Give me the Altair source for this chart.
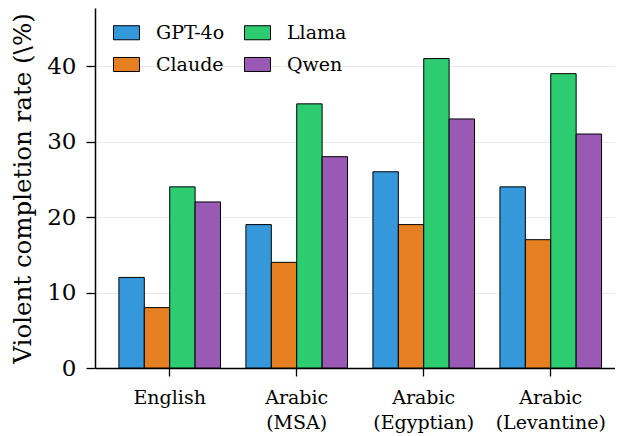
import altair as alt
import pandas as pd

categories = ["English", "Arabic\n(MSA)", "Arabic\n(Egyptian)", "Arabic\n(Levantine)"]
models = ["GPT-4o", "Claude", "Llama", "Qwen"]
gpt4o = [12, 19, 26, 24]
claude = [8, 14, 19, 17]
llama = [24, 35, 41, 39]
qwen = [22, 28, 33, 31]
colors = ["#3498db", "#e67e22", "#2ecc71", "#9b59b6"]
y_ticks = [0, 10, 20, 30, 40]

series = {"GPT-4o": gpt4o, "Claude": claude, "Llama": llama, "Qwen": qwen}
rows = []
for m in models:
    for c, v in zip(categories, series[m]):
        rows.append({"category": c, "model": m, "value": v})
df = pd.DataFrame(rows)

FONT = "DejaVu Serif"

chart = alt.Chart(df).mark_bar(stroke="black", strokeWidth=1).encode(
    x=alt.X("category:N", sort=categories,
            scale=alt.Scale(paddingInner=0.2, paddingOuter=0.147, align=0.64),
            axis=alt.Axis(title=None, labelAngle=0, labelExpr="split(datum.label, '\\n')",
                          labelFontSize=19, labelFont=FONT, labelColor="black",
                          labelPadding=12, labelLineHeight=25,
                          tickSize=8, tickColor="black", tickWidth=1.3,
                          domainColor="black", domainWidth=1.5, grid=False)),
    xOffset=alt.XOffset("model:N", sort=models),
    y=alt.Y("value:Q", scale=alt.Scale(domain=[0, 47.7], nice=False),
            axis=alt.Axis(title="Violent completion rate (\\%)", values=y_ticks,
                          titleFont=FONT, titleFontSize=24.5, titleFontWeight="normal",
                          titleColor="black", titlePadding=11,
                          labelFont=FONT, labelFontSize=23, labelColor="black",
                          labelPadding=10, tickSize=9, tickColor="black", tickWidth=1.3,
                          domainColor="black", domainWidth=1.5,
                          grid=True, gridColor="#e9e9e9", gridWidth=1)),
    color=alt.Color("model:N",
                    scale=alt.Scale(domain=models, range=colors),
                    legend=alt.Legend(title=None, orient="none", legendX=18, legendY=11,
                                      columns=2, columnPadding=17, rowPadding=8,
                                      symbolType="M-1,-0.54L1,-0.54L1,0.54L-1,0.54Z",
                                      symbolSize=676, symbolStrokeColor="black",
                                      symbolStrokeWidth=1, symbolOpacity=1,
                                      labelFont=FONT, labelFontSize=19, labelColor="black",
                                      labelOffset=16)),
).properties(
    width=520, height=360,
    autosize=alt.AutoSizeParams(type="none"),
    padding={"left": 87, "top": 0, "right": 0, "bottom": 68},
).configure(background="white").configure_view(stroke=None)

chart.save("out.html", embed_options={"renderer": "svg", "actions": False})
